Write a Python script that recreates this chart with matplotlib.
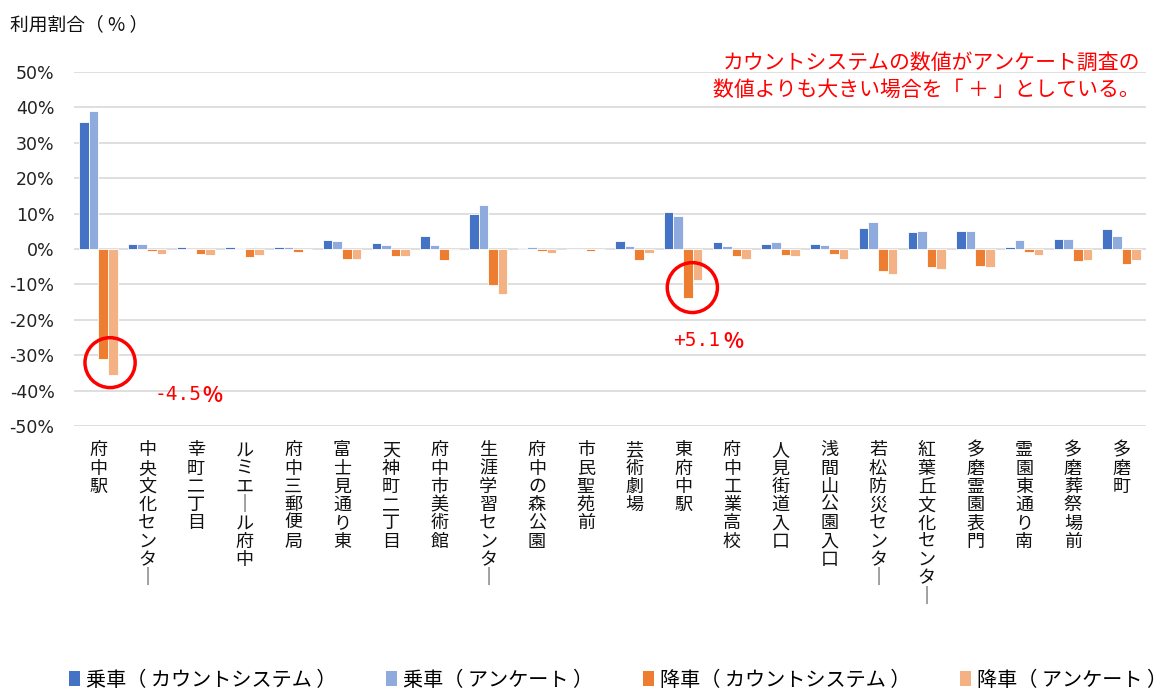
import numpy as np
import matplotlib
matplotlib.use("Agg")
import matplotlib.pyplot as plt
from matplotlib.patches import Patch, Ellipse

plt.rcParams['font.family'] = ['Noto Sans CJK JP', 'DejaVu Sans']

stops = ["府中駅", "中央文化センター", "幸町二丁目", "ルミエール府中", "府中三郵便局",
         "富士見通り東", "天神町二丁目", "府中市美術館", "生涯学習センター", "府中の森公園",
         "市民聖苑前", "芸術劇場", "東府中駅", "府中工業高校", "人見街道入口",
         "浅間山公園入口", "若松防災センター", "紅葉丘文化センター", "多磨霊園表門",
         "霊園東通り南", "多磨葬祭場前", "多磨町"]

# percentages (%)
board_count = [36.0, 1.3, 0.7, 0.5, 0.5, 2.6, 1.6, 3.6, 9.9, 0.4, 0.1,
               2.2, 10.5, 2.0, 1.5, 1.4, 5.8, 4.8, 5.0, 0.7, 2.9, 5.7]
board_survey = [39.0, 1.5, 0.1, 0.2, 0.7, 2.3, 1.2, 1.0, 12.3, 0.7, 0.0,
                0.9, 9.2, 0.9, 1.9, 1.2, 7.5, 5.2, 5.2, 2.6, 2.9, 3.6]
alight_count = [-31.0, -0.5, -1.3, -2.4, -0.8, -2.9, -2.1, -3.0, -10.2, -0.7, -0.6,
                -3.0, -13.8, -1.9, -1.8, -1.3, -6.2, -5.0, -4.8, -0.9, -3.4, -4.2]
alight_survey = [-35.5, -1.3, -1.6, -1.6, -0.1, -2.7, -2.0, -0.4, -12.7, -1.0, -0.1,
                 -1.0, -8.7, -2.7, -2.1, -2.7, -7.0, -5.7, -5.0, -1.6, -3.0, -3.0]

series = [board_count, board_survey, alight_count, alight_survey]
names = ["乗車（ カウントシステム ）", "乗車（ アンケート ）", "降車（ カウントシステム ）", "降車（ アンケート ）"]
colors = ["#4472C4", "#8FAADC", "#ED7D31", "#F4B183"]

fig = plt.figure(figsize=(11.73, 6.91), dpi=100)
ax = fig.add_axes([74/1173, 1-426/691, (1146-74)/1173, (426-72)/691])

x = np.arange(len(stops))
w = 0.197
for i, (vals, c) in enumerate(zip(series, colors)):
    ax.bar(x + (i - 1.5) * w, np.array(vals) / 100, w, color=c,
           edgecolor="white", linewidth=0.6, zorder=3)

ax.set_xlim(-0.5, len(stops) - 0.5)
ax.set_ylim(-0.5, 0.5)
yt = np.arange(-0.5, 0.51, 0.1)
ax.set_yticks(yt)
ax.set_yticklabels([f"{int(round(v*100))}%" for v in yt], fontsize=12.5, color="#222222",
                   family=['DejaVu Sans'])
ax.grid(axis="y", color="#d9d9d9", linewidth=1.2, zorder=0)
for s in ax.spines.values():
    s.set_visible(False)
ax.tick_params(length=0)
ax.tick_params(axis="y", pad=14)
ax.tick_params(axis="x", pad=11)

def vert(s):
    return "\n".join("｜" if ch == "ー" else ch for ch in s)

ax.set_xticks(x)
ax.set_xticklabels([vert(s) for s in stops], fontsize=13, linespacing=1.02,
                   va="top", color="#111111")

fig.text(10/1173, 1-25/691, "利用割合（ % ）", fontsize=13.5, va="center", ha="left", color="#111111")
fig.text(1140/1173, 1-76/691, "カウントシステムの数値がアンケート調査の\n数値よりも大きい場合を「 ＋ 」としている。",
         fontsize=15.0, color="#FF0000", ha="right", va="center", linespacing=1.3)

# circles (category units x, axis fraction y)
for cx, cy in [(0.24, -0.321), (12.19, -0.109)]:
    ax.add_patch(Ellipse((cx, cy), 1.03, 0.141, fill=False, edgecolor="#FF0000",
                         linewidth=2.5, zorder=5))

fig.text(155/1173, 1-395/691, "-4.5", fontsize=14, color="#FF0000", va="center",
         family=['DejaVu Sans Mono'])
fig.text(202/1173, 1-395/691, "%", fontsize=15, color="#FF0000", va="center", weight="bold")
fig.text(673/1173, 1-341/691, "+5.1", fontsize=14, color="#FF0000", va="center",
         family=['DejaVu Sans Mono'])
fig.text(723/1173, 1-341/691, "%", fontsize=15, color="#FF0000", va="center", weight="bold")

handles = [Patch(facecolor=c) for c in colors]
fig.legend(handles, names, loc="center", bbox_to_anchor=(0.527, 1-680/691), ncol=4,
           frameon=False, fontsize=14.5, handlelength=0.55, handleheight=0.7,
           handletextpad=0.3, columnspacing=2.45, borderpad=0.2)

fig.savefig("out.png", dpi=100)
